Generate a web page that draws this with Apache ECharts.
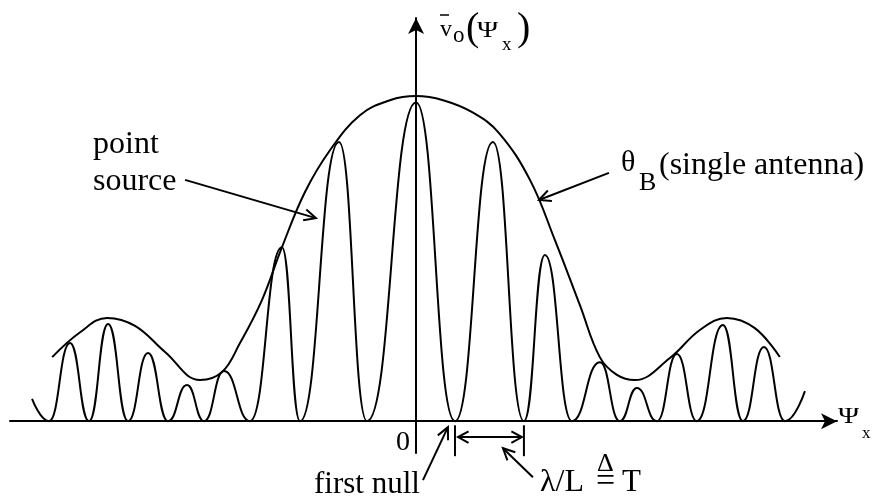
<!DOCTYPE html>
<html>
<head>
<meta charset="utf-8">
<script src="https://cdn.jsdelivr.net/npm/echarts/dist/echarts.min.js"></script>
<style>
  html, body { margin: 0; padding: 0; background: #fff; }
  #chart { width: 875px; height: 504px; }
</style>
</head>
<body>
<div id="chart"></div>
<script>
// Two-element interferometer response: point-source fringes under the single-antenna beam.
// Horizontal unit = fringe spacing T (lambda/L), vertical unit = central fringe height.

// Fringe pattern: alternating nulls and fringe peaks
const fringePsi = [-5.674, -5.423, -5.113, -4.832, -4.551, -4.256, -3.960, -3.665, -3.384, -3.133,
                   -2.838, -2.454, -1.982, -1.715, -1.139, -0.725, 0, 0.575, 1.136, 1.594,
                   1.904, 2.303, 2.717, 3.012, 3.263, 3.559, 3.854, 4.150, 4.534, 4.830,
                   5.140, 5.451, 5.746];
const fringeAmp = [0.07, 0, 0.245, 0, 0.305, 0, 0.214, 0, 0.113, 0,
                   0.157, 0, 0.546, 0, 0.876, 0, 1.0, 0, 0.876, 0,
                   0.521, 0, 0.185, 0, 0.104, 0, 0.211, 0, 0.302, 0,
                   0.233, 0, 0.094];

// Single-antenna beam envelope (theta_B)
const envelopePsi = [-5.377, -4.964, -4.565, -4.152, -3.709, -3.192, -2.867, -2.602, -2.277, -1.981,
                     -1.641, -1.272, -0.829, -0.386, 0, 0.399, 0.842, 1.226, 1.683, 2.052,
                     2.421, 2.717, 2.968, 3.234, 3.751, 4.194, 4.593, 5.006, 5.375];
const envelopeAmp = [0.201, 0.279, 0.324, 0.299, 0.217, 0.129, 0.154, 0.245, 0.380, 0.546,
                     0.719, 0.850, 0.960, 1.007, 1.020, 1.007, 0.968, 0.904, 0.757, 0.568,
                     0.364, 0.200, 0.145, 0.129, 0.198, 0.286, 0.324, 0.292, 0.201];

// Axis ranges
const psiRange = [-6, 6.22];
const ampRange = [-0.1, 1.265];

// Annotation anchors in data units: [tail, tip]
const pointSourceArrow = [[-3.414, 0.757], [-1.479, 0.637]];
const beamArrow        = [[2.850, 0.779], [1.816, 0.694]];
const firstNullArrow   = [[0.102, -0.185], [0.471, -0.019]];
const spacingArrow     = [[1.727, -0.176], [1.284, -0.085]];
const spacingBarLevel  = -0.050;
const nullTickSpan     = [-0.013, -0.110];
const firstNullIndex   = 17;   // first null right of centre
const secondNullIndex  = 19;   // next null

const serif = '"Liberation Serif", "Times New Roman", serif';
const ink = '#000';

const chart = echarts.init(document.getElementById('chart'), null, { renderer: 'canvas' });

const axisLine = {
  show: true,
  onZero: true,
  symbol: ['none', 'arrow'],
  symbolSize: [12, 16],
  lineStyle: { color: ink, width: 2 }
};

chart.setOption({
  animation: false,
  backgroundColor: '#fff',
  grid: { left: 10, right: 38, top: 18, bottom: 51 },
  xAxis: {
    type: 'value', min: psiRange[0], max: psiRange[1],
    axisLine: axisLine, axisTick: { show: false }, axisLabel: { show: false }, splitLine: { show: false }
  },
  yAxis: {
    type: 'value', min: ampRange[0], max: ampRange[1],
    axisLine: axisLine, axisTick: { show: false }, axisLabel: { show: false }, splitLine: { show: false }
  },
  series: [
    {
      name: 'point source',
      type: 'line',
      data: fringePsi.map((p, i) => [p, fringeAmp[i]]),
      symbol: 'none',
      smooth: 0.5,
      smoothMonotone: 'x',
      clip: false,
      lineStyle: { color: ink, width: 2 },
      z: 3
    },
    {
      name: 'single antenna',
      type: 'line',
      data: envelopePsi.map((p, i) => [p, envelopeAmp[i]]),
      symbol: 'none',
      smooth: 0.4,
      clip: false,
      lineStyle: { color: ink, width: 2 },
      z: 3
    }
  ]
});

// ---- annotation helpers ----
function toPx(p) { return chart.convertToPixel({ gridIndex: 0 }, p); }

function seg(a, b, w) {
  return { type: 'line', shape: { x1: a[0], y1: a[1], x2: b[0], y2: b[1] },
           style: { stroke: ink, lineWidth: w || 2 }, z: 10 };
}

function openHead(tip, from, len, ang) {
  const dx = from[0] - tip[0], dy = from[1] - tip[1];
  const L = Math.hypot(dx, dy);
  const ux = dx / L, uy = dy / L;
  const c = Math.cos(ang), s = Math.sin(ang);
  const a = [tip[0] + len * (ux * c - uy * s), tip[1] + len * (ux * s + uy * c)];
  const b = [tip[0] + len * (ux * c + uy * s), tip[1] + len * (-ux * s + uy * c)];
  return { type: 'polyline', shape: { points: [a, tip, b] },
           style: { stroke: ink, lineWidth: 2, fill: null }, z: 10 };
}

function arrow(pair) {
  const tail = toPx(pair[0]), tip = toPx(pair[1]);
  return [seg(tail, tip), openHead(tip, tail, 13, 0.45)];
}

// text placed by left edge and alphabetic baseline
function label(str, x, base, fs, extra) {
  const el = {
    type: 'text', x: x, y: base - 0.3375 * fs, z: 10,
    style: { text: str, x: 0, y: 0, font: fs + 'px ' + serif, fill: ink,
             align: 'left', verticalAlign: 'middle' }
  };
  return Object.assign(el, extra || {});
}

const els = [];

// null ticks and spacing bar
const n1 = fringePsi[firstNullIndex], n2 = fringePsi[secondNullIndex];
els.push(seg(toPx([n1, nullTickSpan[0]]), toPx([n1, nullTickSpan[1]])));
els.push(seg(toPx([n2, nullTickSpan[0]]), toPx([n2, nullTickSpan[1]])));
const barA = toPx([n1 + 0.045, spacingBarLevel]), barB = toPx([n2 - 0.03, spacingBarLevel]);
els.push(seg(barA, barB));
els.push(openHead(barA, barB, 12, 0.5));
els.push(openHead(barB, barA, 12, 0.5));

// pointer arrows
els.push(...arrow(pointSourceArrow));
els.push(...arrow(beamArrow));
els.push(...arrow(firstNullArrow));
els.push(...arrow(spacingArrow));

// vertical axis title: v-bar_o(Psi_x)
els.push(label('v', 440, 38, 24));
els.push(seg([440, 15], [449, 15], 1.5));
els.push(label('o', 453, 44, 23));
els.push(label('(', 466, 43, 40));
els.push(label('\u03A8', 477, 39, 23, { scaleX: 1.25 }));
els.push(label('x', 502, 51, 19));
els.push(label(')', 517, 43, 40));

// horizontal axis title: Psi_x
els.push(label('\u03A8', 838, 425, 23, { scaleX: 1.25 }));
els.push(label('x', 862, 439, 17));

// origin
els.push(label('0', 396, 452, 28));

// curve labels
els.push(label('point', 93, 155, 32));
els.push(label('source', 93, 192, 32));
els.push(label('\u03B8', 621, 173, 30));
els.push(label('B', 639, 192, 26));
els.push(label('(single antenna)', 659, 176, 32));

// null labels
els.push(label('first null', 314, 495, 31));
els.push(label('\u03BB/L', 540, 493, 32));
els.push(label('\u0394', 597, 473, 26));
els.push(label('=', 596, 494, 34));
els.push(label('T', 622, 493, 31));

chart.setOption({ graphic: { elements: els } });
</script>
</body>
</html>
